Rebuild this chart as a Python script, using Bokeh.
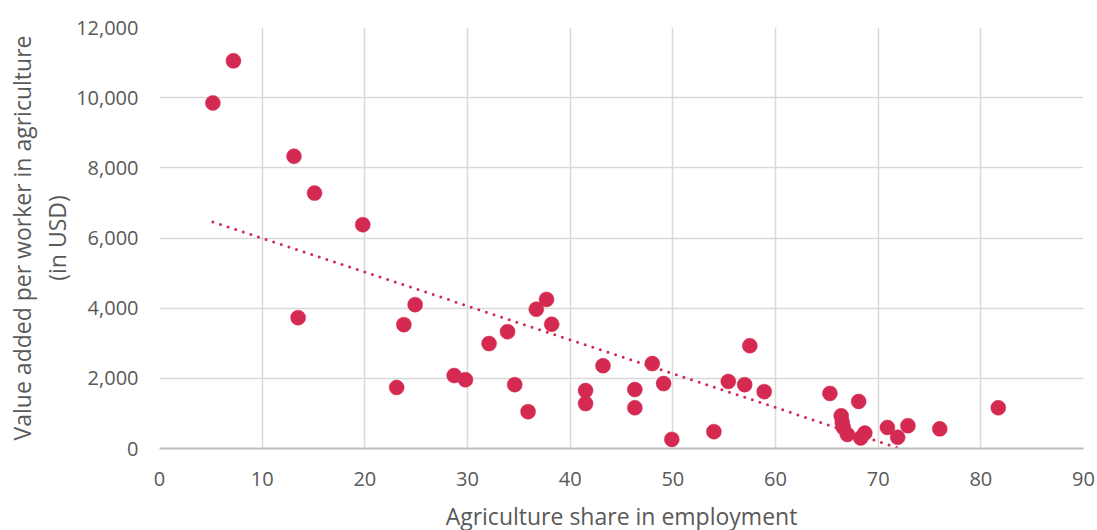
import numpy as np
from bokeh.plotting import figure
from bokeh.models import Range1d, FixedTicker, NumeralTickFormatter, ColumnDataSource
from bokeh.embed import file_html
from bokeh.resources import INLINE

# Agriculture share in employment (%)
share = [5.2, 7.2, 13.1, 15.1, 19.8, 13.5, 23.1, 23.8, 24.9, 28.7, 29.8, 32.1,
         33.9, 34.6, 35.9, 36.7, 37.7, 38.2, 41.5, 41.5, 43.2, 46.3, 46.3, 48.0,
         49.1, 49.9, 54.0, 55.4, 57.0, 57.5, 58.9, 65.3, 68.1, 66.4, 66.5, 66.6,
         67.0, 68.3, 68.7, 70.9, 71.9, 72.9, 76.0, 81.7]
# Value added per worker in agriculture (USD)
value = [9850, 11050, 8330, 7280, 6380, 3730, 1740, 3530, 4100, 2080, 1960, 2990,
         3330, 1820, 1050, 3970, 4250, 3540, 1650, 1280, 2360, 1680, 1160, 2420,
         1850, 260, 480, 1910, 1820, 2930, 1620, 1570, 1340, 930, 750, 600,
         400, 300, 440, 600, 320, 650, 560, 1160]

x_ticks = [0, 10, 20, 30, 40, 50, 60, 70, 80, 90]
y_ticks = [0, 2000, 4000, 6000, 8000, 10000, 12000]

MARK = "#D42A52"
GRID = "#D9D9D9"
TXT = "#595959"
FONT = "Open Sans"

p = figure(frame_width=924, frame_height=421, output_backend="svg", toolbar_location=None,
           x_range=Range1d(0, 90), y_range=Range1d(0, 12000),
           min_border_left=159, min_border_right=12, min_border_top=27, min_border_bottom=82)
p.outline_line_color = None
p.background_fill_color = "white"

# trendline (least squares fit of the data)
coef = np.polyfit(share, value, 1)
xs = [min(share), max(share)]
ys = [coef[0] * xs[0] + coef[1], coef[0] * xs[1] + coef[1]]
p.line(xs, ys, line_color=MARK, line_width=3, line_dash="0 8", line_cap="round")

src = ColumnDataSource(dict(x=share, y=value))
p.scatter("x", "y", source=src, size=15, fill_color=MARK, line_color=MARK, line_width=0.5)

for ax, ticks in ((p.xaxis, x_ticks), (p.yaxis, y_ticks)):
    ax.ticker = FixedTicker(ticks=ticks)
    ax.major_tick_line_color = None
    ax.minor_tick_line_color = None
    ax.major_tick_out = 0
    ax.major_tick_in = 0
    ax.minor_tick_out = 0
    ax.major_label_text_font = FONT
    ax.major_label_text_font_size = "20px"
    ax.major_label_text_color = TXT
    ax.axis_label_text_font = FONT
    ax.axis_label_text_font_size = "23px"
    ax.axis_label_text_font_style = "normal"
    ax.axis_label_text_color = TXT

p.yaxis.formatter = NumeralTickFormatter(format="0,0")
p.yaxis.axis_line_color = None
p.xaxis.axis_line_color = "#BFBFBF"
p.xaxis.axis_line_width = 2
p.xaxis.major_label_standoff = 23
p.yaxis.major_label_standoff = 21
p.xaxis.axis_label = "Agriculture share in employment"
p.yaxis.axis_label = "Value added per worker in agriculture\n(in USD)"
p.xaxis.axis_label_standoff = 11
p.yaxis.axis_label_standoff = 0
p.yaxis.axis_label_text_line_height = 1.1

p.xgrid.ticker = FixedTicker(ticks=x_ticks)
p.ygrid.ticker = FixedTicker(ticks=y_ticks)
p.xgrid.grid_line_color = GRID
p.ygrid.grid_line_color = GRID
p.xgrid.grid_line_width = 1.5
p.ygrid.grid_line_width = 1.5

open("out.html", "w").write(file_html(p, INLINE))
